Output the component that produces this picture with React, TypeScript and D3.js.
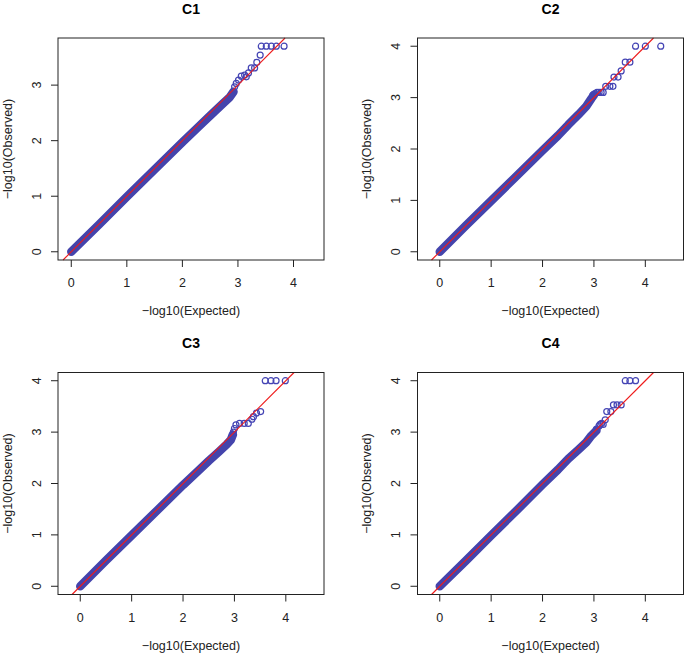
import React from "react";
import * as d3 from "d3";

// ---- data ----
const panelTitles = ["C1", "C2", "C3", "C4"];
const xLimit = [0, 4.31];
const yLimits = [[0, 3.7], [0, 4], [0, 4], [0, 4]];
const xTicks = [0, 1, 2, 3, 4];
const yTicksC1 = [0, 1, 2, 3];
const yTicksOther = [0, 1, 2, 3, 4];

// dense body of the QQ cloud: expected / observed
const c1BodyExp = [0, 0.5, 1, 1.5, 2, 2.3, 2.5, 2.7, 2.85, 2.92];
const c1BodyObs = [0, 0.49, 0.99, 1.48, 1.97, 2.26, 2.45, 2.64, 2.78, 2.88];
const c2BodyExp = [0, 0.5, 1, 1.5, 2, 2.3, 2.5, 2.7, 2.85, 2.95, 3.0];
const c2BodyObs = [0, 0.5, 0.99, 1.48, 1.97, 2.26, 2.47, 2.67, 2.83, 2.98, 3.05];
const c3BodyExp = [0, 0.5, 1, 1.5, 2, 2.3, 2.5, 2.7, 2.85, 2.93, 2.97];
const c3BodyObs = [0, 0.5, 0.99, 1.48, 1.97, 2.25, 2.44, 2.62, 2.76, 2.85, 2.95];
const c4BodyExp = [0, 0.5, 1, 1.5, 2, 2.3, 2.5, 2.7, 2.85, 2.95, 3.05];
const c4BodyObs = [0, 0.49, 0.99, 1.48, 1.98, 2.27, 2.48, 2.66, 2.8, 2.93, 3.03];

// sparse tail points
const c1TailExp = [3.42, 3.51, 3.6, 3.69, 3.83, 3.4, 3.34, 3.3, 3.24, 3.19, 3.12, 3.06, 3.15, 3.01, 2.97, 2.94];
const c1TailObs = [3.7, 3.7, 3.7, 3.7, 3.7, 3.54, 3.41, 3.31, 3.31, 3.22, 3.18, 3.16, 3.15, 3.09, 3.03, 2.97];
const c2TailExp = [3.81, 4.0, 4.3, 3.61, 3.7, 3.53, 3.39, 3.47, 3.23, 3.31, 3.37, 3.18, 3.14, 3.1, 3.06, 3.02, 2.98];
const c2TailObs = [4, 4, 4, 3.69, 3.69, 3.52, 3.4, 3.4, 3.22, 3.22, 3.22, 3.1, 3.1, 3.1, 3.1, 3.08, 3.05];
const c3TailExp = [3.6, 3.71, 3.81, 3.99, 3.51, 3.43, 3.37, 3.34, 3.27, 3.19, 3.1, 3.03, 3.0, 2.98, 2.96];
const c3TailObs = [4, 4, 4, 4, 3.4, 3.37, 3.3, 3.25, 3.17, 3.17, 3.17, 3.14, 3.07, 3.0, 2.94];
const c4TailExp = [3.61, 3.7, 3.81, 3.38, 3.45, 3.53, 3.25, 3.33, 3.22, 3.12, 3.18, 3.15, 3.1, 3.05];
const c4TailObs = [4, 4, 4, 3.53, 3.53, 3.53, 3.4, 3.4, 3.24, 3.15, 3.15, 3.17, 3.12, 3.06];

const bodies = [
  [c1BodyExp, c1BodyObs],
  [c2BodyExp, c2BodyObs],
  [c3BodyExp, c3BodyObs],
  [c4BodyExp, c4BodyObs],
];
const tails = [
  [c1TailExp, c1TailObs],
  [c2TailExp, c2TailObs],
  [c3TailExp, c3TailObs],
  [c4TailExp, c4TailObs],
];

// ---- layout ----
const W = 685;
const H = 655;
const boxW = 266;
const boxH = 222;
const boxLeft = [58, 417.5];
const boxTop = [38, 372.5];
const FONT = "'Liberation Sans', Arial, Helvetica, sans-serif";
const PT_COLOR = "#4444b4";
const BAND_COLOR = "#4444ac";
const LINE_COLOR = "#ee1c1c";

function Panel({ idx }: { idx: number }) {
  const col = idx % 2;
  const row = Math.floor(idx / 2);
  const left = boxLeft[col];
  const top = boxTop[row];
  const [y0, y1] = yLimits[idx];
  const yPad = (y1 - y0) * 0.04;
  const yDom = [y0 - yPad, y1 + yPad];
  const ppu = boxH / (yDom[1] - yDom[0]);
  const xc = (xLimit[0] + xLimit[1]) / 2;
  const xHalf = boxW / ppu / 2;
  const x = d3.scaleLinear().domain([xc - xHalf, xc + xHalf]).range([0, boxW]);
  const y = d3.scaleLinear().domain(yDom).range([boxH, 0]);
  const yTicks = idx === 0 ? yTicksC1 : yTicksOther;

  const [bx, by] = bodies[idx];
  const bodyPts = bx.map((e, i) => [e, by[i]] as [number, number]);
  const line = d3
    .line<[number, number]>()
    .x((d) => x(d[0]))
    .y((d) => y(d[1]));
  const [tx, ty] = tails[idx];
  // y = x reference line, limited to the plot box
  const lo = Math.max(x.domain()[0], y.domain()[0]);
  const hi = Math.min(x.domain()[1], y.domain()[1]);

  return (
    <g transform={`translate(${left},${top})`}>
      <text
        x={boxW / 2}
        y={-24.5}
        textAnchor="middle"
        fontFamily={FONT}
        fontWeight="bold"
        fontSize={14}
        fill="#000"
      >
        {panelTitles[idx]}
      </text>
      <path
        d={line(bodyPts) || ""}
        fill="none"
        stroke={BAND_COLOR}
        strokeWidth={8.5}
        strokeLinecap="round"
        strokeLinejoin="round"
      />
      {tx.map((e, i) => (
        <circle
          key={i}
          cx={x(e)}
          cy={y(ty[i])}
          r={3}
          fill="none"
          stroke={PT_COLOR}
          strokeWidth={1.2}
        />
      ))}
      <line
        x1={x(lo)}
        y1={y(lo)}
        x2={x(hi)}
        y2={y(hi)}
        stroke={LINE_COLOR}
        strokeWidth={1.1}
      />
      <rect x={0} y={0} width={boxW} height={boxH} fill="none" stroke="#222" strokeWidth={1} />
      {xTicks.map((t) => (
        <g key={`xt${t}`}>
          <line x1={x(t)} x2={x(t)} y1={boxH} y2={boxH + 7} stroke="#222" strokeWidth={1} />
          <text
            x={x(t)}
            y={boxH + 27}
            textAnchor="middle"
            fontFamily={FONT}
            fontSize={12.5}
            fill="#222"
          >
            {t}
          </text>
        </g>
      ))}
      {yTicks.map((t) => (
        <g key={`yt${t}`}>
          <line x1={-7} x2={0} y1={y(t)} y2={y(t)} stroke="#222" strokeWidth={1} />
          <text
            transform={`translate(${-17.5},${y(t)}) rotate(-90)`}
            textAnchor="middle"
            fontFamily={FONT}
            fontSize={12.5}
            fill="#222"
          >
            {t}
          </text>
        </g>
      ))}
      <text
        x={boxW / 2}
        y={boxH + 55}
        textAnchor="middle"
        fontFamily={FONT}
        fontSize={12.5}
        fill="#222"
      >
        −log10(Expected)
      </text>
      <text
        transform={`translate(${-46.5},${boxH / 2}) rotate(-90)`}
        textAnchor="middle"
        fontFamily={FONT}
        fontSize={12.5}
        fill="#222"
      >
        −log10(Observed)
      </text>
    </g>
  );
}

export default function App() {
  return (
    <svg
      width={W}
      height={H}
      viewBox={`0 0 ${W} ${H}`}
      style={{ position: "absolute", left: 0, top: 0, background: "#fff" }}
    >
      <rect x={0} y={0} width={W} height={H} fill="#fff" />
      {[0, 1, 2, 3].map((i) => (
        <Panel key={i} idx={i} />
      ))}
    </svg>
  );
}
